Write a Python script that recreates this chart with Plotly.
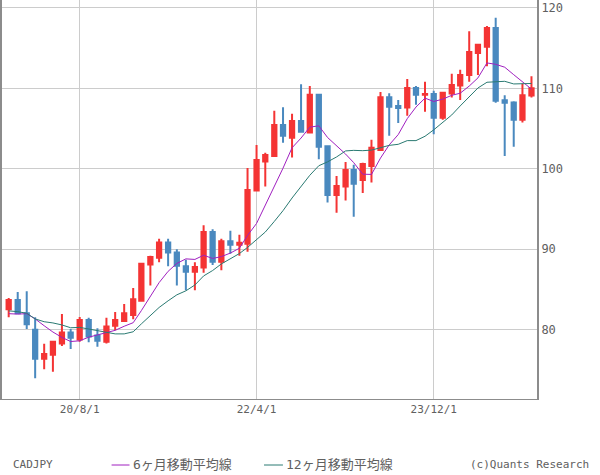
import pandas as pd
import plotly.graph_objects as go

# ---------------- data ----------------
months = pd.date_range("2019-12-01", periods=60, freq="MS")

opens = [82.55, 83.7, 82.05, 80.0, 76.41, 76.9, 78.3, 79.65, 78.8, 81.2,
         79.3, 78.5, 80.5, 81.1, 81.85, 83.6, 88.1, 88.95, 90.85, 89.6,
         87.9, 87.2, 87.75, 92.15, 88.45, 91.0, 90.55, 90.7, 97.3, 100.9,
         101.6, 105.45, 103.85, 105.95, 104.5, 109.2, 102.8, 96.75, 97.8, 99.85,
         98.6, 100.35, 102.35, 108.9, 107.8, 107.6, 110.05, 109.2, 109.3, 106.35,
         109.35, 110.35, 111.65, 114.4, 115.15, 117.5, 108.5, 108.25, 106.1, 109.1]
highs = [83.95, 84.7, 84.8, 81.55, 78.25, 78.6, 81.95, 80.1, 81.6, 81.5,
         80.2, 81.5, 82.2, 83.2, 85.2, 88.3, 89.2, 91.3, 91.3, 90.0,
         88.7, 88.4, 93.0, 92.5, 91.3, 92.3, 91.8, 100.1, 102.95, 102.0,
         107.2, 107.65, 106.85, 110.5, 110.3, 109.3, 102.85, 99.1, 100.85, 100.5,
         100.75, 103.6, 109.55, 109.4, 108.55, 111.15, 110.3, 110.8, 109.7, 109.5,
         111.8, 112.3, 117.1, 115.45, 117.75, 118.75, 109.15, 108.4, 110.55, 111.5]
lows = [81.55, 81.95, 80.1, 73.98, 75.1, 74.8, 78.0, 77.6, 78.5, 78.45,
        77.9, 78.3, 79.95, 81.0, 81.3, 83.6, 85.5, 88.4, 87.9, 85.5,
        84.9, 84.9, 87.1, 88.05, 87.4, 89.45, 89.2, 89.7, 97.2, 97.8,
        101.5, 103.25, 101.4, 104.5, 104.4, 101.2, 95.8, 94.55, 96.05, 94.05,
        97.0, 98.3, 102.3, 104.1, 105.7, 106.6, 107.95, 107.1, 104.3, 106.1,
        108.85, 108.55, 110.8, 111.65, 112.75, 108.2, 101.6, 102.75, 105.75, 108.85]
closes = [83.7, 82.05, 80.68, 76.41, 77.0, 78.5, 79.65, 79.0, 81.2, 79.15,
          78.65, 80.4, 81.2, 82.05, 83.8, 88.2, 89.05, 90.85, 89.6, 87.95,
          87.2, 87.8, 92.15, 88.45, 91.0, 90.55, 90.8, 97.35, 101.1, 101.7,
          105.45, 104.1, 105.95, 104.6, 109.2, 102.75, 96.75, 97.85, 99.85, 98.15,
          100.6, 102.6, 108.9, 107.7, 107.55, 110.05, 109.2, 109.3, 106.35, 109.45,
          110.4, 111.65, 114.5, 115.4, 117.5, 108.45, 108.2, 106.1, 109.15, 110.0]

ma6 = [82.0, 81.95, 82.0, 81.35, 80.5, 79.72, 79.05, 78.54, 78.63, 79.08,
       79.36, 79.68, 79.93, 80.44, 80.88, 82.38, 84.12, 85.86, 87.26, 88.24,
       88.81, 88.74, 89.26, 88.86, 89.09, 89.53, 90.13, 91.72, 93.21, 95.42,
       97.83, 100.08, 102.61, 103.82, 105.17, 105.34, 103.89, 102.85, 101.83, 100.76,
       99.33, 99.3, 101.33, 102.97, 104.25, 106.23, 107.67, 108.78, 108.36, 108.65,
       109.13, 109.39, 110.28, 111.29, 113.15, 112.98, 112.62, 111.69, 110.8, 109.9]
ma12 = [82.35, 82.25, 82.05, 81.35, 81.0, 80.85, 80.6, 80.25, 80.3, 80.1,
        79.87, 79.7, 79.49, 79.49, 79.75, 80.73, 81.74, 82.77, 83.6, 84.34,
        84.84, 85.56, 86.69, 87.36, 88.18, 88.88, 89.47, 90.23, 91.23, 92.14,
        93.46, 94.8, 96.37, 97.77, 99.19, 100.38, 100.86, 101.47, 102.22, 102.29,
        102.25, 102.32, 102.61, 102.91, 103.04, 103.5, 103.5, 104.04, 104.84, 105.81,
        106.69, 107.81, 108.97, 110.04, 110.75, 110.82, 110.87, 110.54, 110.54, 110.6]

tick_dates = ["2020-08-01", "2022-04-01", "2023-12-01"]
tick_labels = ["20/8/1", "22/4/1", "23/12/1"]
y_ticks = [80, 90, 100, 110, 120]

symbol = "CADJPY"
ma6_name = "6ヶ月移動平均線"
ma12_name = "12ヶ月移動平均線"
credit = "(c)Quants Research"

# ---------------- styling ----------------
RED = "#f43434"
BLUE = "#4a89bf"
PURPLE = "#a020c0"
TEAL = "#2a7a72"
GRID = "#cccccc"
AXIS = "#8c8c8c"
TXT = "#606060"
MONO = "DejaVu Sans Mono, Noto Sans CJK JP"

fig = go.Figure()
fig.add_trace(go.Candlestick(
    x=months, open=opens, high=highs, low=lows, close=closes,
    increasing=dict(line=dict(color=RED, width=2), fillcolor=RED),
    decreasing=dict(line=dict(color=BLUE, width=2), fillcolor=BLUE),
    whiskerwidth=0, showlegend=False, hoverinfo="skip",
))
fig.add_trace(go.Scatter(x=months, y=ma6, mode="lines",
                         line=dict(color=PURPLE, width=1), showlegend=False, hoverinfo="skip"))
fig.add_trace(go.Scatter(x=months, y=ma12, mode="lines",
                         line=dict(color=TEAL, width=1), showlegend=False, hoverinfo="skip"))

W, H = 600, 475
L, R, T, B = 0, 63, 0, 76
pw, ph = W - L - R, H - T - B


def px(x):
    return (x - L) / pw


def py(y):
    return (H - B - y) / ph


leg_y = py(465)

fig.update_layout(
    width=W, height=H,
    margin=dict(l=L, r=R, t=T, b=B, pad=0),
    paper_bgcolor="white", plot_bgcolor="white",
    boxgap=0.25,
    xaxis=dict(
        type="date", range=["2019-11-08", "2024-11-20"],
        rangeslider=dict(visible=False),
        tickvals=tick_dates, ticktext=tick_labels,
        showgrid=True, gridcolor=GRID, gridwidth=1,
        showline=True, linecolor=AXIS, linewidth=1,
        ticks="", tickfont=dict(family=MONO, size=11, color=TXT),
        zeroline=False, fixedrange=True,
    ),
    yaxis=dict(
        side="right", range=[71.4, 120.97],
        tickvals=y_ticks, ticktext=[str(v) for v in y_ticks],
        showgrid=True, gridcolor=GRID, gridwidth=1,
        showline=True, mirror=True, linecolor=AXIS, linewidth=2,
        ticks="", tickfont=dict(family=MONO, size=12, color=TXT),
        zeroline=False, fixedrange=True,
    ),
    shapes=[
        dict(type="line", xref="paper", yref="paper", x0=px(110), x1=px(128),
             y0=leg_y, y1=leg_y, line=dict(color=PURPLE, width=1)),
        dict(type="line", xref="paper", yref="paper", x0=px(263), x1=px(282),
             y0=leg_y, y1=leg_y, line=dict(color=TEAL, width=1)),
    ],
    annotations=[
        dict(text=symbol, xref="paper", yref="paper", x=px(9), y=leg_y,
             xanchor="left", yanchor="middle", showarrow=False,
             font=dict(family=MONO, size=11, color=TXT)),
        dict(text=ma6_name, xref="paper", yref="paper", x=px(129), y=leg_y,
             xanchor="left", yanchor="middle", showarrow=False,
             font=dict(family=MONO, size=13, color=TXT)),
        dict(text=ma12_name, xref="paper", yref="paper", x=px(283), y=leg_y,
             xanchor="left", yanchor="middle", showarrow=False,
             font=dict(family=MONO, size=13, color=TXT)),
        dict(text=credit, xref="paper", yref="paper", x=px(591), y=leg_y,
             xanchor="right", yanchor="middle", showarrow=False,
             font=dict(family=MONO, size=11, color=TXT)),
    ],
)

fig.write_html("out.html")
